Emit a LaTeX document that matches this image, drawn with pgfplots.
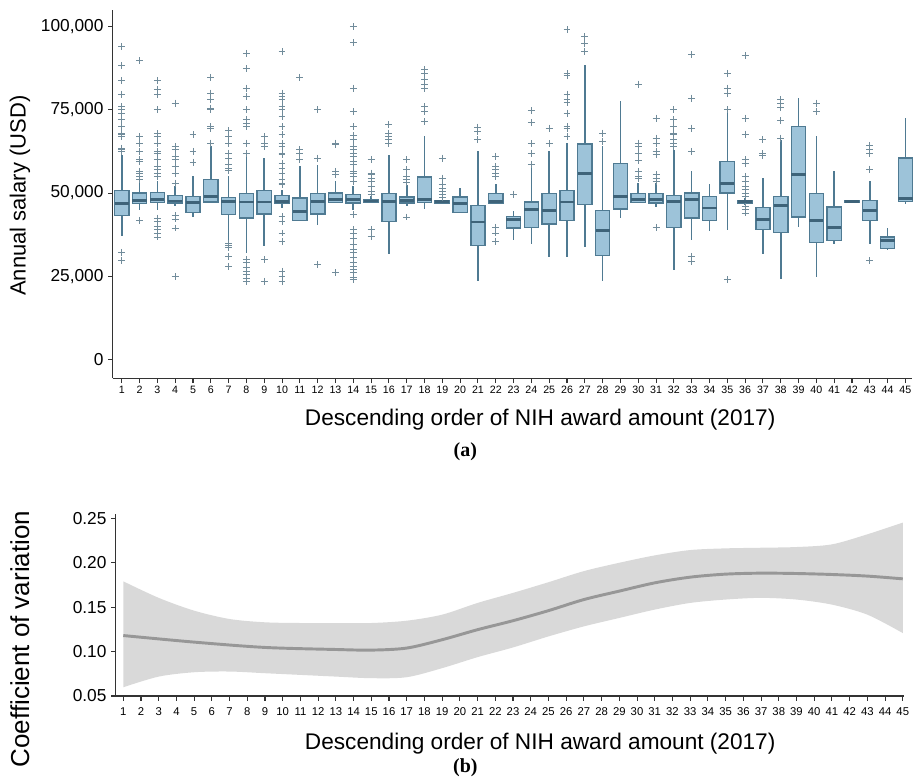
\documentclass[border=0pt]{standalone}
\usepackage{pgfplots}
\pgfplotsset{compat=1.18}
\usepgfplotslibrary{statistics,fillbetween}
\usepackage{fontspec}
\setmainfont{Liberation Sans}
\newfontfamily\seriffont{Liberation Serif}
\definecolor{boxfill}{HTML}{9DC3D9}
\definecolor{boxedge}{HTML}{4F7A92}
\definecolor{medcol}{HTML}{3E6379}
\definecolor{outl}{HTML}{718C9B}
\definecolor{band}{HTML}{D9D9D9}
\definecolor{cvline}{HTML}{979797}
\definecolor{axcol}{HTML}{333333}
% salaries in thousands of USD
\newcommand{\bx}[7]{\addplot[bxs, boxplot prepared={draw position=#1, lower whisker=#2, lower quartile=#3, median=#4, upper quartile=#5, upper whisker=#6}] table[row sep=\\, y index=0] {v\\ #7};}
\newcommand{\bxn}[6]{\addplot[bxs, boxplot prepared={draw position=#1, lower whisker=#2, lower quartile=#3, median=#4, upper quartile=#5, upper whisker=#6}] coordinates {};}
\begin{document}
\begin{tikzpicture}
\path (0,0) rectangle (685.5pt,-588.75pt);
\pgfplotsset{
  bxs/.style={draw=boxedge, line width=1.1pt, mark=+, mark size=2.6pt,
    mark options={draw=outl, line width=0.7pt, solid},
    boxplot/draw direction=y,
    boxplot/box extend=0.8, boxplot/whisker extend=0,
    boxplot/every box/.style={draw=boxedge, fill=boxfill, line width=1.1pt},
    boxplot/every whisker/.style={draw=boxedge, line width=1.2pt},
    boxplot/every median/.style={draw=medcol, line width=2.2pt}},
  myax/.style={scale only axis, axis x line*=bottom, axis y line*=left,
    axis line style={axcol, line width=0.9pt, -}, tick align=outside,
    major tick length=3.5pt, tick style={axcol, line width=0.8pt},
    xtick={1,...,45},
    xticklabels={1,2,3,4,5,6,7,8,9,10,11,12,13,14,15,16,17,18,19,20,21,22,23,24,25,26,27,28,29,30,31,32,33,34,35,36,37,38,39,40,41,42,43,44,45},
    x tick label style={font=\fontsize{8}{9}\selectfont, inner sep=1pt, yshift=-1pt},
    y tick label style={font=\fontsize{13}{15}\selectfont},
    /pgf/number format/assume math mode=true, clip=false}
}
\begin{axis}[myax, at={(84.75pt,-284.25pt)}, anchor=south west,
  width=600pt, height=276.75pt,
  xmin=0.5, xmax=45.35, ymin=-5.7, ymax=105,
  ytick={0,25,50,75,100},
  yticklabels={0,{25,000},{50,000},{75,000},{100,000}}]
\bx{1}{37}{43.3}{46.8}{50.8}{61.5}{94\\88.2\\83.7\\79.7\\76\\75\\74\\72.2\\70\\68\\67.5\\67\\63.5\\63\\62.5\\32.2\\29.8\\}
\bx{2}{45}{46.8}{47.7}{50}{53.5}{89.8\\67\\65\\62.5\\60\\59.5\\56.5\\56\\55\\54\\41.8\\}
\bx{3}{45}{47.2}{48}{50.2}{53.5}{83.8\\81.2\\79.7\\75\\67.8\\67\\64.8\\62.5\\62\\60\\58\\57\\56\\55\\42.5\\41.5\\40\\39\\38\\36.8\\}
\bx{4}{46}{47}{47.6}{49.3}{52}{77\\64\\63\\61\\60\\58\\56\\53\\43.2\\42.2\\39.5\\24.8\\}
\bx{5}{42.8}{44.2}{47.2}{49}{55}{67.5\\62.5\\59.3\\}
\bx{6}{47}{47.3}{49}{54}{64}{84.8\\80\\78.2\\75.5\\75\\70\\69.5\\65\\}
\bx{7}{36}{43.5}{47.5}{48.7}{55}{68.7\\67\\64.8\\62\\60.5\\58.5\\57.5\\56.8\\35\\34.2\\33.5\\31\\28\\}
\bx{8}{32}{42.5}{47.3}{49.8}{61}{92\\87.3\\81.5\\79\\75\\72\\71\\70\\65\\62\\30\\29\\27.5\\26.5\\25.5\\24.2\\23.5\\}
\bx{9}{34}{43.7}{47.3}{50.8}{60.5}{67\\65\\64\\30\\23.5\\}
\bx{10}{45.5}{47}{47.5}{49.2}{51}{92.5\\80\\79\\78\\76\\75\\73\\70\\67.5\\65\\64\\62\\61.5\\59\\57.5\\56\\54\\53\\52.5\\43\\41.5\\38\\35.5\\26.5\\25\\23.5\\}
\bx{11}{41.5}{41.8}{44.5}{48.5}{58}{84.8\\63\\62\\60\\}
\bx{12}{40.5}{43.7}{47.5}{49.8}{58.5}{75\\60.5\\28.5\\}
\bx{13}{47}{47.2}{48}{50}{53.5}{65\\64.5\\56.5\\55.5\\26\\}
\bx{14}{45}{47}{48}{49.5}{52}{100\\95.2\\81.5\\74.5\\70\\67.2\\66\\64\\63\\62\\61\\59.5\\58.5\\56.5\\56\\55\\53.5\\43.5\\39\\38\\36.5\\34.5\\33\\32\\30.5\\29\\28\\27\\26\\24.5\\24\\}
\bx{15}{47}{47.2}{47.6}{48}{49}{60\\56\\55.5\\54.5\\53.5\\52\\50.5\\49.5\\39\\37\\}
\bx{16}{31.8}{41.5}{47.5}{49.8}{61.5}{70.5\\68\\67\\66\\64.8\\}
\bx{17}{46}{47}{47.7}{48.8}{52.5}{60\\57\\55\\54\\53.2\\42.8\\}
\bx{18}{45.3}{47.2}{48}{54.8}{67}{87\\85.8\\84\\82.5\\81.5\\76\\74.5\\71.5\\}
\bx{19}{47}{47}{47.4}{47.7}{48.2}{60.5\\54.5\\52.5\\51.5\\50.5\\49.5\\48.8\\}
\bxn{20}{44}{44.2}{46.8}{48.8}{51.5}
\bx{21}{23.5}{34.3}{41.3}{46.3}{62.5}{69.8\\68.5\\66\\}
\bx{22}{47}{47}{47.5}{49.8}{52.7}{61\\58\\57\\56\\55\\39.7\\38\\35.5\\}
\bx{23}{36}{39.5}{42}{43}{44.7}{49.7\\}
\bx{24}{34.8}{39.7}{45}{47.3}{57.5}{74.7\\71.2\\64.8\\62\\58.7\\}
\bx{25}{30.7}{40.7}{44.8}{49.8}{62.5}{69.5\\64.8\\}
\bx{26}{30.9}{41.8}{47.3}{50.7}{65}{99\\85.8\\85.2\\79.7\\78\\77.2\\74\\70\\69.5\\67\\}
\bx{27}{33.8}{46.5}{56}{64.8}{88.5}{97\\95\\92.5\\}
\bx{28}{23.5}{31.2}{38.7}{44.8}{64}{68\\65.5\\}
\bxn{29}{42.5}{45.2}{49}{58.8}{77.7}
\bx{30}{47}{47.2}{48.2}{49.8}{53}{82.7\\65\\64\\62\\59.8\\56.5\\55\\54.5\\}
\bx{31}{45.8}{47}{48}{49.8}{53}{72.5\\66.5\\65\\62.5\\61.5\\55.5\\54.5\\53.5\\39.7\\}
\bx{32}{27}{39.7}{47.5}{49.2}{63}{75\\72\\70\\68\\67.5\\66\\65\\64\\}
\bx{33}{36}{42.5}{48}{50}{56.5}{91.5\\78.5\\69.5\\62.5\\31\\29.5\\}
\bxn{34}{38.5}{41.8}{45.5}{49}{52.7}
\bx{35}{39}{50}{53}{59.5}{74}{86\\81.5\\80\\75\\24\\}
\bx{36}{46.5}{47}{47.4}{47.7}{48.5}{91.2\\72.5\\67.7\\60\\59\\55\\53.5\\52\\51\\50\\49\\46\\45\\44\\}
\bx{37}{31.8}{39}{42}{45.7}{54.5}{66\\61.8\\61.2\\}
\bx{38}{24.2}{38.2}{46.2}{49}{66}{78\\76.8\\75.8\\71.8\\66.5\\}
\bxn{39}{39.8}{42.8}{55.5}{70}{78.5}
\bx{40}{24.8}{35.2}{41.8}{49.8}{67.2}{77\\74.5\\}
\bxn{41}{34.8}{35.7}{39.7}{45.8}{56.5}
\bxn{42}{47.2}{47.2}{47.4}{47.6}{47.6}
\bx{43}{34.8}{41.8}{44.8}{47.8}{53.5}{64.2\\63.2\\61.8\\57.2\\29.7\\}
\bxn{44}{32.8}{33.4}{35.8}{36.8}{39.5}
\bxn{45}{46.8}{47.5}{48.3}{60.5}{72.5}
\end{axis}
\node[font=\fontsize{16.5}{18}\selectfont, rotate=90] at (15pt,-147pt) {Annual salary (USD)};
\node[font=\fontsize{17}{19}\selectfont, anchor=base] at (405.75pt,-319.5pt) {Descending order of NIH award amount (2017)};
\node[font=\seriffont\bfseries\fontsize{15}{17}\selectfont] at (349.5pt,-339pt) {(a)};

\begin{axis}[myax, at={(87pt,-522.75pt)}, anchor=south west,
  width=591.75pt, height=136.5pt,
  xmin=0.58, xmax=45.05, ymin=0.05, ymax=0.2545,
  x tick label style={font=\fontsize{8.5}{9}\selectfont, yshift=-3pt},
  ytick={0.05,0.10,0.15,0.20,0.25},
  yticklabels={0.05,0.10,0.15,0.20,0.25}]
\addplot[name path=U, draw=none, smooth] coordinates {(1,0.179)(3,0.1604)(5,0.146)(7,0.1366)(9,0.1329)(11,0.1321)(13,0.1321)(15,0.1321)(17,0.1347)(19,0.1415)(21,0.1547)(23,0.166)(25,0.178)(27,0.1905)(29,0.1999)(31,0.2082)(33,0.2142)(35,0.2161)(37,0.2168)(39,0.2176)(41,0.2206)(43,0.2319)(45,0.2451)};
\addplot[name path=L, draw=none, smooth] coordinates {(1,0.0598)(3,0.0718)(5,0.0767)(7,0.0775)(9,0.0756)(11,0.0737)(13,0.0718)(15,0.070)(17,0.0711)(19,0.0813)(21,0.0937)(23,0.1046)(25,0.117)(27,0.1283)(29,0.1378)(31,0.1472)(33,0.1547)(35,0.1585)(37,0.1604)(39,0.1585)(41,0.1528)(43,0.1415)(45,0.1208)};
\addplot[band, draw=none] fill between[of=U and L];
\addplot[cvline, line width=2.2pt, smooth] coordinates {(1,0.118)(5,0.1106)(9,0.1046)(13,0.1023)(15,0.1016)(17,0.1039)(19,0.1133)(21,0.1246)(23,0.1347)(25,0.146)(27,0.1585)(29,0.168)(31,0.1773)(33,0.1837)(35,0.1871)(37,0.1882)(39,0.1878)(41,0.1867)(43,0.1849)(45,0.1818)};
\end{axis}
\node[font=\fontsize{19.5}{21}\selectfont, rotate=90] at (15pt,-480pt) {Coefficient of variation};
\node[font=\fontsize{17}{19}\selectfont, anchor=base] at (405.75pt,-563pt) {Descending order of NIH award amount (2017)};
\node[font=\seriffont\bfseries\fontsize{15}{17}\selectfont] at (349.5pt,-577pt) {(b)};
\end{tikzpicture}
\end{document}
